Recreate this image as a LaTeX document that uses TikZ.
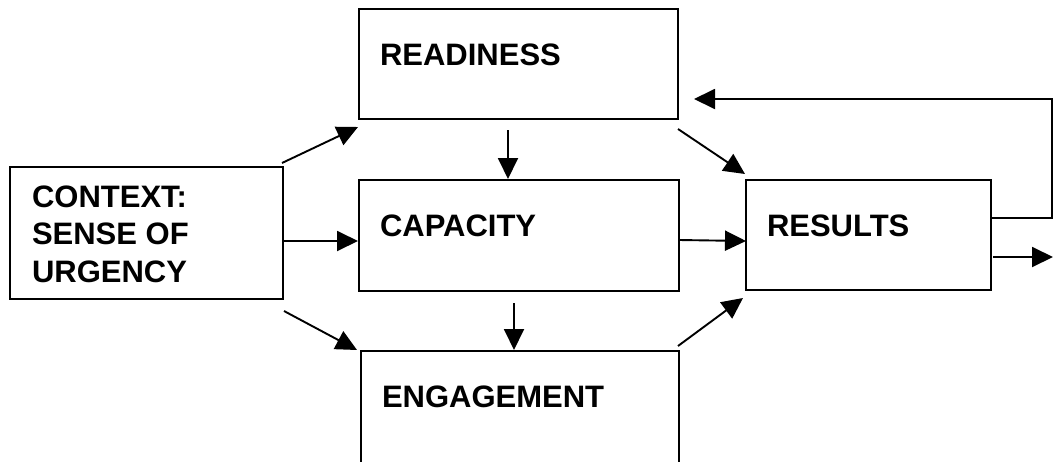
\documentclass[tikz,border=0pt]{standalone}
\usepackage{fontspec}
\setmainfont{Liberation Sans}
\usetikzlibrary{arrows.meta,calc}
\begin{document}
\begin{tikzpicture}[x=1pt,y=-1pt,
  box/.style={draw,line width=2.4pt,inner sep=0pt,outer sep=0pt,anchor=north west,rectangle},
  lbl/.style={anchor=base west,inner sep=0pt,outer sep=0pt,font=\fontsize{31}{37.5}\selectfont\bfseries,align=left},
  arr/.style={line width=1.9pt,-{Triangle[length=21pt,width=20pt]}}]
\useasboundingbox (0,0) rectangle (1053,461);
\fill[white] (0,0) rectangle (1053,461);
\clip (0,0) rectangle (1053,461);
% boxes
\node[box,minimum width=319pt,minimum height=110pt] (readiness) at (359,9) {};
\node[box,minimum width=320pt,minimum height=111pt] (capacity) at (359,180) {};
\node[box,minimum width=245pt,minimum height=110pt] (results) at (746,180) {};
\node[box,minimum width=318pt,minimum height=125pt] (engagement) at (361,351) {};
\node[box,minimum width=273pt,minimum height=132pt] (context) at (10,167) {};
% labels
\node[lbl] (treadiness) at (380,65) {READINESS};
\node[lbl] (tcapacity) at (380,236) {CAPACITY};
\node[lbl] (tresults) at (767,236) {RESULTS};
\node[lbl] (tengagement) at (382,407) {ENGAGEMENT};
\node[lbl] (tcontext) at (32,282) {CONTEXT:\\SENSE OF\\URGENCY};
% connectors
\draw[arr] ($(context.north east)+(-1,-4)$) -- ($(readiness.south west)+(-1,8)$);
\draw[arr] ($(context.east)+(0,8)$) -- ($(capacity.west)+(-1,5.5)$);
\draw[arr] ($(context.south east)+(1,12)$) -- ($(engagement.north west)+(-4,-1)$);
\draw[arr] ($(readiness.south)+(-10.5,11)$) -- ($(capacity.north)+(-11,-1)$);
\draw[arr] ($(capacity.south)+(-5,12)$) -- ($(engagement.north)+(-6,-1)$);
\draw[arr] ($(readiness.south east)+(0,10)$) -- ($(results.north west)+(-1,-6)$);
\draw[arr] ($(capacity.east)+(0,4.5)$) -- ($(results.west)+(0,6)$);
\draw[arr] ($(engagement.north east)+(-1,-5)$) -- ($(results.south west)+(-3,8)$);
\draw[arr] ($(results.east)+(0,-17)$) -- ++(61,0) |- ($(readiness.south east)+(16,-20)$);
\coordinate (out) at (1053,257);
\draw[arr] ($(results.east)+(2,22)$) -- (out);
\end{tikzpicture}
\end{document}
